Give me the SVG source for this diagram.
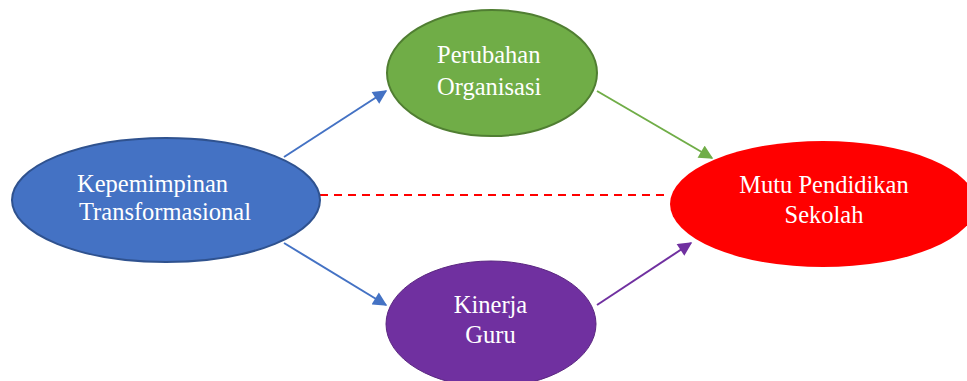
<svg xmlns="http://www.w3.org/2000/svg" width="967" height="381" viewBox="0 0 967 381">
<style>
.t{font-family:"Liberation Serif","Times New Roman",serif;font-size:24.5px;fill:#fff;text-anchor:middle}
.s{text-anchor:start}
</style>
<defs>
<marker id="ab" viewBox="0 0 10 10" refX="9" refY="5" markerWidth="7.5" markerHeight="7" orient="auto" markerUnits="strokeWidth"><path d="M0,0L10,5L0,10z" fill="#4472C4"/></marker>
<marker id="ag" viewBox="0 0 10 10" refX="9" refY="5" markerWidth="7.5" markerHeight="7" orient="auto" markerUnits="strokeWidth"><path d="M0,0L10,5L0,10z" fill="#70AD47"/></marker>
<marker id="ap" viewBox="0 0 10 10" refX="9" refY="5" markerWidth="7.5" markerHeight="7" orient="auto" markerUnits="strokeWidth"><path d="M0,0L10,5L0,10z" fill="#7030A0"/></marker>
</defs>
<rect width="967" height="381" fill="#fff"/>
<g id="connectors" stroke-width="2" fill="none">
<line x1="284" y1="157" x2="386" y2="91" stroke="#4472C4" marker-end="url(#ab)"/>
<line x1="284" y1="243" x2="386" y2="305" stroke="#4472C4" marker-end="url(#ab)"/>
<line x1="597" y1="91" x2="712" y2="158" stroke="#70AD47" marker-end="url(#ag)"/>
<line x1="597" y1="305" x2="691" y2="243" stroke="#7030A0" marker-end="url(#ap)"/>
<line x1="320" y1="195" x2="667" y2="195" stroke="#FF0000" stroke-dasharray="8,6"/>
</g>
<g id="kepemimpinan">
<ellipse cx="166" cy="200" rx="154" ry="62" fill="#4472C4" stroke="#2F528F" stroke-width="2"/>
<text class="t s" x="77" y="192">Kepemimpinan</text>
<text class="t s" x="79" y="220">Transformasional</text>
</g>
<g id="perubahan">
<ellipse cx="492" cy="73" rx="105" ry="63" fill="#70AD47" stroke="#507E32" stroke-width="2"/>
<text class="t s" x="437" y="63">Perubahan</text>
<text class="t s" x="437" y="95">Organisasi</text>
</g>
<g id="kinerja">
<ellipse cx="491" cy="324" rx="105" ry="63" fill="#7030A0" stroke="#5A2680" stroke-width="1"/>
<text class="t" x="490.5" y="313">Kinerja</text>
<text class="t" x="490.5" y="343">Guru</text>
</g>
<g id="mutu">
<ellipse cx="823" cy="204" rx="153" ry="63" fill="#FF0000"/>
<text class="t" x="824" y="193">Mutu Pendidikan</text>
<text class="t" x="824" y="223">Sekolah</text>
</g>
</svg>
